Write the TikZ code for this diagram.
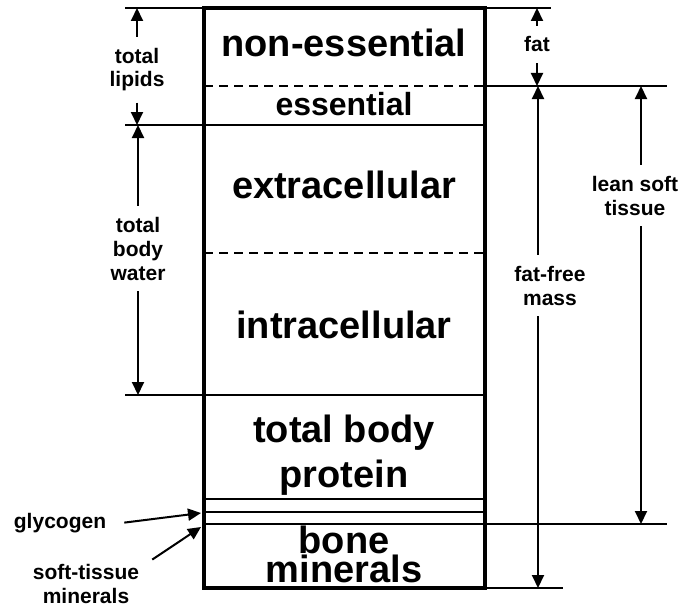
\documentclass[tikz,border=0pt]{standalone}
\usepackage{fontspec}
\setmainfont{Liberation Sans}
\usetikzlibrary{arrows.meta,positioning}
\tikzset{
  ar/.style={-{Triangle[length=13pt,width=12pt]},line width=2pt},
  big/.style={font=\bfseries\fontsize{38}{45}\selectfont,inner sep=0pt,align=center,anchor=base},
  lbl/.style={font=\bfseries\fontsize{21}{24}\selectfont,inner xsep=2pt,inner ysep=11pt,align=center,anchor=base},
  rule/.style={line width=2.5pt},
  dashrule/.style={line width=2.5pt,dash pattern=on 9pt off 6pt}
}
\begin{document}
\begin{tikzpicture}[x=1pt,y=-1pt]
\useasboundingbox (0,0) rectangle (680,610);
% compartments
\draw[dashrule] (204,86) -- (485,86);
\draw[dashrule] (204,253) -- (485,253);
\draw[rule] (125,125) -- (485,125);
\draw[rule] (125,395) -- (485,395);
\foreach \y in {499,512} \draw[rule] (204,\y) -- (485,\y);
\draw[rule] (204,524) -- (667,524);
% guide lines outside the column
\draw[rule] (125,8) -- (551,8);
\draw[rule] (485,86) -- (667,86);
\draw[rule] (485,588) -- (563,588);
\draw[line width=4pt] (204,8) rectangle (485,588);

\node[big] (nonessential) at (344,57) {non-essential};
\node[big,font=\bfseries\fontsize{32}{36}\selectfont] (essential) at (344,115) {essential};
\node[big] (extra) at (344,198) {extracellular};
\node[big] (intra) at (344,338) {intracellular};
\node[big] (protein) at (344,487) {total body\\protein};
\node[big,font=\bfseries\fontsize{38}{29}\selectfont] (bone) at (344,582) {bone\\minerals};

% left side
\coordinate (lipidtop) at (137,8);
\coordinate (lipidbot) at (137,125);
\coordinate (tbwtop) at (138,125);
\coordinate (tbwbot) at (138,395);
\node[lbl] (lipids) at (137,87) {total\\lipids};
\node[lbl] (tbw) at (138,280) {total\\body\\water};
\draw[ar] (lipids) -- (lipidtop);
\draw[ar] (lipids) -- (lipidbot);
\draw[ar] (tbw) -- (tbwtop);
\draw[ar] (tbw) -- (tbwbot);

% right side
\coordinate (fattop) at (537,8);
\coordinate (fatbot) at (537,86);
\coordinate (ffmtop) at (538,86);
\coordinate (ffmbot) at (538,588);
\coordinate (lsttop) at (641,86);
\coordinate (lstbot) at (641,524);
\node[lbl] (fat) at (537,52) {fat};
\node[lbl] (ffm) at (550,305) {fat-free\\mass};
\node[lbl] (lst) at (635,215) {lean soft\\tissue};
\draw[ar] (fat) -- (fattop);
\draw[ar] (fat) -- (fatbot);
\draw[ar] (ffm.north -| ffmtop) -- (ffmtop);
\draw[ar] (ffm.south -| ffmbot) -- (ffmbot);
\draw[ar] (lst.north -| lsttop) -- (lsttop);
\draw[ar] (lst.south -| lstbot) -- (lstbot);

% bottom left
\coordinate (glyctip) at (201,513);
\coordinate (stmtip) at (201,527);
\node[lbl,inner ysep=2pt] (glyc) at (60,528) {glycogen};
\node[lbl] (stm) at (86,603) {soft-tissue\\minerals};
\draw[ar] ([xshift=16pt]glyc.east) -- (glyctip);
\draw[ar] ([xshift=11pt,yshift=-7pt]stm.north east) -- (stmtip);
\end{tikzpicture}
\end{document}
